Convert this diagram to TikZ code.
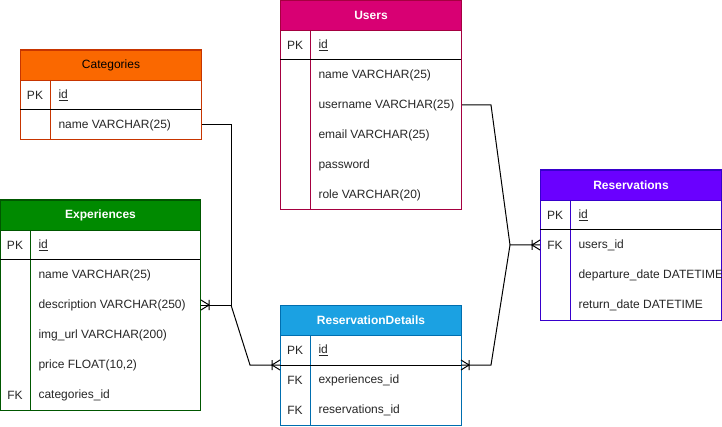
\documentclass[tikz,border=0pt]{standalone}
\usepackage{fontspec}
\setmainfont{Liberation Sans}

\definecolor{usersfill}{HTML}{D80073}
\definecolor{usersline}{HTML}{A50040}
\definecolor{catfill}{HTML}{FA6800}
\definecolor{catline}{HTML}{C73500}
\definecolor{expfill}{HTML}{008A00}
\definecolor{expline}{HTML}{005700}
\definecolor{detfill}{HTML}{1BA1E2}
\definecolor{detline}{HTML}{006EAF}
\definecolor{resfill}{HTML}{6A00FF}
\definecolor{resline}{HTML}{3700CC}

\begin{document}
\begin{tikzpicture}[x=1pt, y=-1pt, line width=1pt,
  every node/.style={font=\fontsize{12}{14}\selectfont, text=black!85},
  header/.style={anchor=north west, minimum height=30pt, inner sep=0pt, text=white, font=\fontsize{12}{14}\selectfont\bfseries},
  key/.style={inner sep=0pt},
  field/.style={anchor=west, inner sep=0pt},
  crowfoot/.pic={\draw[black] (0,-5) -- (8,0) -- (0,5) (8,-5) -- (8,5);}]
  \useasboundingbox (0,0) rectangle (722,427);

  % Users table
  \draw[usersline] (280,0) rectangle (461,210);
  \node[header, fill=usersfill, draw=usersline, minimum width=181pt] (users) at (280,0) {Users};
  \draw[usersline] (310,30) -- (310,210);
  \draw (280,60) -- (461,60);
  \node[key] at (295,45) {PK};
  \node[field] (users-id) at (318,45) {\underline{id}};
  \foreach \y/\n/\t in {75/name/{name VARCHAR(25)}, 105/username/{username VARCHAR(25)},
      135/email/{email VARCHAR(25)}, 165/password/password, 195/role/{role VARCHAR(20)}}
    \node[field] (users-\n) at (318,\y) {\t};

  % Categories table
  \draw[catline] (20,50) rectangle (201,140);
  \node[header, fill=catfill, draw=catline, minimum width=181pt, text=black, font=\fontsize{12}{14}\selectfont] (categories) at (20,50) {Categories};
  \draw[catline] (50,80) -- (50,140);
  \draw (20,110) -- (201,110);
  \node[key] at (35,95) {PK};
  \node[field] (categories-id) at (58,95) {\underline{id}};
  \node[field] (categories-name) at (58,125) {name VARCHAR(25)};

  % Experiences table
  \draw[expline] (0,200) rectangle (200,410);
  \node[header, fill=expfill, draw=expline, minimum width=200pt] (experiences) at (0,200) {Experiences};
  \draw[expline] (30,230) -- (30,410);
  \draw (0,260) -- (200,260);
  \node[key] at (15,245) {PK};
  \node[field] (experiences-id) at (38,245) {\underline{id}};
  \foreach \y/\n/\t in {275/name/{name VARCHAR(25)}, 305/description/{description VARCHAR(250)},
      335/img/{img\_url VARCHAR(200)}, 365/price/{price FLOAT(10,2)}, 395/cat/categories\_id}
    \node[field] (experiences-\n) at (38,\y) {\t};
  \node[key] at (15,395) {FK};

  % ReservationDetails table
  \draw[detline] (280,305) rectangle (461,425);
  \node[header, fill=detfill, draw=detline, minimum width=181pt] (details) at (280,305) {ReservationDetails};
  \draw[detline] (310,335) -- (310,425);
  \draw (280,365) coordinate (details-sepw) -- (461,365) coordinate (details-sepe);
  \node[key] at (295,350) {PK};
  \node[field] (details-id) at (318,350) {\underline{id}};
  \foreach \y/\n/\t in {380/exp/experiences\_id, 410/res/reservations\_id} {
    \node[key] at (295,\y) {FK};
    \node[field] (details-\n) at (318,\y) {\t};
  }

  % Reservations table
  \draw[resline] (540,170) rectangle (721,320);
  \node[header, fill=resfill, draw=resline, minimum width=181pt] (reservations) at (540,170) {Reservations};
  \draw[resline] (570,200) -- (570,320);
  \draw (540,230) -- (721,230);
  \node[key] at (555,215) {PK};
  \node[field] (reservations-id) at (578,215) {\underline{id}};
  \node[key] at (555,245) {FK};
  \foreach \y/\n/\t in {245/users/users\_id, 275/departure/{departure\_date DATETIME},
      305/return/{return\_date DATETIME}}
    \node[field] (reservations-\n) at (578,\y) {\t};

  % Relations
  \coordinate (expjoin) at (231,305);
  \coordinate (detbend) at (250,365);
  \coordinate (userbend) at (491,105);
  \coordinate (resjoin) at (510,245);
  \coordinate (resbend) at (491,365);

  \draw (categories-name -| categories.east) -| (expjoin) -- (experiences-description -| experiences.east);
  \draw (expjoin) -- (detbend) -- (details-sepw);
  \draw (users-username -| users.east) -- (userbend) -- (resjoin) -- (reservations-users -| reservations.west);
  \draw (resjoin) -- (resbend) -- (details-sepe);

  % Crow's feet
  \path (experiences-description -| experiences.east) pic {crowfoot};
  \path (details-sepw) pic[xscale=-1] {crowfoot};
  \path (reservations-users -| reservations.west) pic[xscale=-1] {crowfoot};
  \path (details-sepe) pic {crowfoot};
\end{tikzpicture}
\end{document}
